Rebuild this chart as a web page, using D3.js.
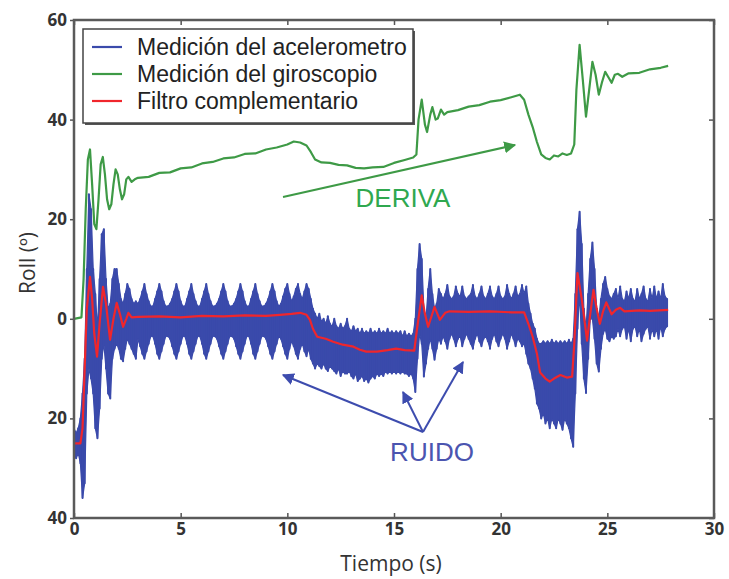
<!DOCTYPE html>
<html>
<head>
<meta charset="utf-8">
<script src="https://cdn.jsdelivr.net/npm/d3@7"></script>
<style>
  body { margin: 0; background: #fff; }
  svg { display: block; }
  .tick text { font-family: "Open Sans", sans-serif; font-weight: 700; font-size: 17px; fill: #333; }
</style>
</head>
<body>
<svg id="chart" width="729" height="579"></svg>
<script>
// accelerometer: min / max of the noisy signal every 0.1 s, starting at t = 0
const accStep = 0.1;
const accHi = [
  -22, -23, -22, -20, -15, -8, 10, 25, 22, 10,
  5, -2, 8, 17, 18, 8, 2, 3, 8, 10,
  10, 7, 4, 3, 5, 7, 6, 4, 3, 3.5,
  3, 4, 5.5, 7, 5, 3.5, 2.5, 2.5, 4, 5.5,
  7, 5.5, 3.5, 2.5, 2.5, 3, 4, 5.5, 7, 5.5,
  3.5, 2.5, 2.5, 4, 5.5, 7, 5, 3.5, 2.5, 2.5,
  4, 5.5, 7, 5, 3.5, 2.5, 2.5, 3, 4, 5.5,
  7, 5.5, 3.5, 2.5, 2.5, 3, 4, 5.5, 7, 5.5,
  3.5, 2.5, 2.5, 4, 5.5, 7, 5, 3.5, 2.5, 2.5,
  3, 4, 5.5, 7, 5.5, 3.5, 2.5, 3, 4.5, 6,
  7, 5, 3.5, 4.5, 6, 7, 5, 4, 5.5, 7,
  6, 4, 2, 1, 0, 1, -0.5, 0, -1, 0.5,
  -1, -1.5, 0, -1.5, -2, -1, -2, -1.5, 0, -2,
  -2.5, -1.5, -2.5, -2, -3, -2, -3, -2.5, -3, -2,
  -3, -2.5, -3, -2, -3, -2.5, -3, -2, -3, -2.5,
  -3, -2.5, -3, -2.5, -3.5, -2.5, -3.5, -3, -3.5, -3,
  0, 10, 15, 12, 2, 0, 6, 10, 5, 2,
  3, 6, 5, 4, 5, 6.8, 4.5, 4, 4.5, 6.5,
  5, 4.5, 6.5, 4.5, 4, 4.5, 5, 6.8, 4.5, 4,
  5, 6.5, 4.5, 4, 5, 6.5, 4.5, 4, 5, 6.5,
  4.5, 4, 4.5, 6.8, 5, 4, 5, 6.5, 4.5, 5,
  6.8, 5, 6.5, 3, 1, -1, -2, -4, -5, -5,
  -4.5, -5, -4.5, -5, -4.2, -5, -4.5, -5, -4.5, -5,
  -4.5, -5, -4.2, -5, -4, 5, 18, 21.5, 15, 2,
  -2, 5, 12, 15.3, 10, 2, 0, 4, 7, 8.4,
  6, 4.5, 4, 5, 6, 4, 6.5, 4, 3.5, 5.5,
  4, 6, 4, 3.5, 6, 4, 5, 6.5, 4, 3.5,
  6, 4, 6.5, 4, 5.5, 4, 7, 4.5, 4
];
const accLo = [
  -27, -28, -27, -29, -36, -33, -15, -10, -12, -15,
  -22, -24, -18, -8, -5, -10, -15, -16, -8, -6,
  -5, -6, -8, -8.5, -6, -4, -5, -6, -7, -8,
  -4, -5.5, -7, -8, -6.5, -5, -3.5, -3.5, -5, -7,
  -8, -6.5, -5, -3.5, -3.5, -4, -5.5, -7, -8, -6.5,
  -5, -3.5, -3.5, -5, -7, -8, -6.5, -5, -3.5, -3.5,
  -5, -7, -8, -6.5, -5, -3.5, -3.5, -4, -5.5, -7,
  -8, -6.5, -5, -3.5, -3.5, -4, -5.5, -7, -8, -6.5,
  -5, -3.5, -3.5, -5, -7, -8, -6.5, -5, -3.5, -3.5,
  -4, -5.5, -7, -8, -6.5, -5, -3.5, -4, -5.5, -7,
  -8, -6, -4.5, -5.5, -7, -8, -6, -5, -6.5, -7.5,
  -6, -8, -9, -10, -9, -9.5, -10, -9, -10, -10.5,
  -9.5, -10, -10.5, -11, -10, -11.5, -10.5, -11, -11, -10.5,
  -11.5, -12, -11, -12.5, -12, -11.5, -12.5, -12, -12.8, -12,
  -11.5, -12, -11, -11.5, -11, -11.5, -10.5, -11, -10.5, -11,
  -10.5, -11, -10.5, -11, -10.5, -11, -11, -11.5, -11, -12,
  -14.7, -8, -3, -5, -11.6, -9, -6, -4, -6, -8.2,
  -6, -4, -5, -3.5, -4.5, -6, -4, -3, -4, -5.5,
  -4, -3.5, -5.5, -4, -3, -4, -5, -6, -4, -3,
  -4.5, -5.5, -4, -3.5, -4.5, -6, -4, -3, -4.5, -5.5,
  -4, -3, -4, -6, -4.5, -3, -4, -5.5, -4, -4.5,
  -5.5, -5, -7, -9, -10, -12, -14, -17, -18, -20,
  -19, -21, -20, -22, -20, -21, -22, -20, -21, -22.3,
  -20, -21, -22, -24, -25.7, -15, -2, 5, -5, -12,
  -14.9, -8, 0, 0, -4, -9, -10.6, -6, -3, -2,
  -4, -4.5, -3.5, -4, -3.5, -2, -3.5, -2, -1.5, -4,
  -2, -4.5, -2, -1.5, -3.5, -2, -4.5, -3, -2, -1.5,
  -4, -2, -3.5, -2, -4, -1.5, -3.5, -2, -1.5
];

// gyroscope (time s, roll deg)
const gyroT = [0, 0.35, 0.45, 0.55, 0.65, 0.75, 0.85, 0.95, 1.05, 1.15, 1.25, 1.35, 1.45, 1.55, 1.65, 1.75, 1.85, 1.95, 2.05, 2.15, 2.25, 2.35, 2.45, 2.55, 2.7, 2.85,
  3.0, 3.5, 4.0, 4.5, 5.0, 5.5, 6.0, 6.5, 7.0, 7.5, 8.0, 8.5, 9.0, 9.5, 10.0, 10.3, 10.6, 10.9, 11.1, 11.3, 11.6, 12.0, 12.4, 12.8, 13.2, 13.6, 14.0, 14.5, 15.0, 15.5, 15.9,
  16.05, 16.15, 16.3, 16.45, 16.55, 16.7, 16.8, 16.95, 17.05, 17.2, 17.35, 17.5, 18.0, 18.5, 19.0, 19.5, 20.0, 20.5, 20.9,
  21.1, 21.3, 21.5, 21.7, 21.9, 22.1, 22.3, 22.5, 22.7, 22.9, 23.1, 23.3, 23.45, 23.55, 23.7, 23.85, 24.0, 24.15, 24.3, 24.45, 24.6, 24.75, 24.9, 25.05, 25.2, 25.35, 25.5, 25.7, 26.0, 26.5, 27.0, 27.5, 27.85];
const gyroV = [0, 0.3, 8, 22, 32, 34, 27, 19, 18, 24, 31, 32.5, 29, 24, 22, 23, 27, 30, 29, 26, 24, 25, 28, 28.5, 27.5, 28,
  28.3, 28.5, 29.3, 29.4, 30.2, 30.4, 31.2, 31.5, 32.2, 32.4, 33.1, 33.2, 34.0, 34.4, 35.0, 35.6, 35.4, 34.8, 33.5, 32, 31.4, 31.3, 30.9, 30.8, 30.3, 30.2, 30.4, 30.5, 31.3, 31.9, 32.4,
  33, 40, 44, 39, 37.5, 41, 42.5, 40, 40.2, 42, 41, 41.5, 41.9, 42.6, 42.9, 43.6, 43.9, 44.5, 45,
  44, 41, 38.5, 35.5, 33, 32.3, 32, 32.8, 32.6, 33.2, 32.9, 33.2, 35, 46, 55, 48, 40.6, 46, 51.6, 49, 45, 47.5, 49.6, 48.5, 47.4, 49, 49.2, 48.6, 49.3, 49.4, 50.1, 50.4, 50.8];

// complementary filter (time s, roll deg)
const filtT = [0, 0.3, 0.4, 0.5, 0.6, 0.75, 0.85, 0.95, 1.08, 1.2, 1.36, 1.5, 1.69, 1.85, 2.0, 2.15, 2.3, 2.45, 2.55, 2.7,
  3.0, 4.0, 5.0, 6.0, 7.0, 8.0, 9.0, 9.65, 10.2, 10.6, 10.9, 11.06, 11.2, 11.4, 11.8, 12.15, 12.6, 13.1, 13.4, 13.7, 14.2, 14.7, 15.1, 15.5, 15.95,
  16.08, 16.3, 16.45, 16.6, 16.9, 17.15, 17.4, 17.6, 18.5, 19.5, 20.5, 21.1, 21.3, 21.5, 21.7, 21.85, 22.1, 22.3, 22.5, 22.8, 23.1, 23.35,
  23.45, 23.6, 23.8, 24.05, 24.2, 24.35, 24.5, 24.65, 24.8, 24.95, 25.2, 25.4, 25.6, 25.8, 26.5, 27.0, 27.85];
const filtV = [-25, -25, -22, -10, 2, 8.4, 4, -3, -7.6, -1, 6.4, 3, -4.2, 0, 3.2, 1, -1.6, 0, 1.2, 0.3,
  0.4, 0.5, 0.3, 0.6, 0.5, 0.7, 0.6, 0.8, 1.0, 1.2, 0.8, -0.2, -2, -3.6, -4, -4.6, -5.2, -5.6, -6.2, -6.6, -6.6, -6.3, -6, -6.3, -6.4,
  -2, 4.7, 1, -1.6, 2.4, -0.2, 1.2, 1.5, 1.4, 1.5, 1.3, 1.3, -1, -3.6, -7, -10.8, -12, -12.6, -12, -11.3, -11.8, -11.6,
  -5, 9.2, 4, -4.4, 1, 5.8, 2, -1, 1.5, 3.3, 0.9, 1.8, 2.2, 1.5, 1.7, 1.6, 1.8];

const seriesNames = ["Medición del acelerometro", "Medición del giroscopio", "Filtro complementario"];
const xTicks = [0, 5, 10, 15, 20, 25, 30];
const yTicks = [-40, -20, 0, 20, 40, 60];

const colors = { acc: "#3a4aab", gyro: "#3e9a46", filt: "#f0262c" };

const svg = d3.select("#chart");
const margin = { left: 74, right: 15, top: 20, bottom: 61 };
const W = 729, H = 579;

const x = d3.scaleLinear().domain([0, 30]).range([margin.left, W - margin.right]);
const y = d3.scaleLinear().domain([-40, 60]).range([H - margin.bottom, margin.top]);

const plot = svg.append("g");

// accelerometer: filled min/max band plus vertical strokes for the spikes
const accData = accHi.map((hi, i) => ({ t: i * accStep, hi, lo: accLo[i] }));
plot.append("path")
  .datum(accData)
  .attr("d", d3.area().x((d) => x(d.t)).y0((d) => y(d.lo)).y1((d) => y(d.hi)))
  .attr("fill", colors.acc)
  .attr("stroke", colors.acc)
  .attr("stroke-width", 1.2)
  .attr("stroke-linejoin", "round");
plot.append("g")
  .selectAll("line")
  .data(accData)
  .enter()
  .append("line")
  .attr("x1", (d) => x(d.t)).attr("x2", (d) => x(d.t))
  .attr("y1", (d) => y(d.hi)).attr("y2", (d) => y(d.lo))
  .attr("stroke", colors.acc)
  .attr("stroke-width", 2)
  .attr("stroke-linecap", "round");

const line = d3.line().x((d) => x(d[0])).y((d) => y(d[1]));

plot.append("path")
  .datum(gyroT.map((t, i) => [t, gyroV[i]]))
  .attr("d", line)
  .attr("fill", "none")
  .attr("stroke", colors.gyro)
  .attr("stroke-width", 2.2)
  .attr("stroke-linejoin", "round");

plot.append("path")
  .datum(filtT.map((t, i) => [t, filtV[i]]))
  .attr("d", line)
  .attr("fill", "none")
  .attr("stroke", colors.filt)
  .attr("stroke-width", 2.2)
  .attr("stroke-linejoin", "round");

// axes, ticks pointing inwards
const fmt = (d) => Math.abs(d);
svg.append("g")
  .attr("transform", `translate(0,${y(-40)})`)
  .call(d3.axisBottom(x).tickValues(xTicks).tickFormat(fmt).tickSizeInner(-5).tickSizeOuter(0).tickPadding(5))
  .call((g) => g.select(".domain").remove());
svg.append("g")
  .attr("transform", `translate(0,${y(60)})`)
  .call(d3.axisTop(x).tickValues(xTicks).tickFormat("").tickSizeInner(-5).tickSizeOuter(0))
  .call((g) => g.select(".domain").remove());
svg.append("g")
  .attr("transform", `translate(${x(0)},0)`)
  .call(d3.axisLeft(y).tickValues(yTicks).tickFormat(fmt).tickSizeInner(4).tickSizeOuter(0).tickPadding(3))
  .call((g) => g.select(".domain").remove());
svg.append("g")
  .attr("transform", `translate(${x(30)},0)`)
  .call(d3.axisRight(y).tickValues(yTicks).tickFormat("").tickSizeInner(-5).tickSizeOuter(0))
  .call((g) => g.select(".domain").remove());
svg.selectAll(".tick line").attr("stroke", "#555").attr("stroke-width", 1.5);

svg.append("rect")
  .attr("x", x(0)).attr("y", y(60))
  .attr("width", x(30) - x(0)).attr("height", y(-40) - y(60))
  .attr("fill", "none").attr("stroke", "#5a5a5a").attr("stroke-width", 2.5);

// axis titles
svg.append("text")
  .attr("x", 391).attr("y", 563)
  .attr("text-anchor", "middle").attr("dominant-baseline", "central")
  .attr("font-family", "Open Sans, sans-serif").attr("font-size", 21).attr("fill", "#333")
  .text("Tiempo (s)");
svg.append("text")
  .attr("transform", "translate(27,263) rotate(-90)")
  .attr("text-anchor", "middle").attr("dominant-baseline", "central")
  .attr("font-family", "Open Sans, sans-serif").attr("font-size", 21).attr("fill", "#333")
  .text("Roll (º)");

// legend
const legend = svg.append("g");
legend.append("rect").attr("x", 85).attr("y", 31).attr("width", 330).attr("height", 94).attr("fill", "#555");
legend.append("rect").attr("x", 83).attr("y", 29).attr("width", 330).attr("height", 94)
  .attr("fill", "#fff").attr("stroke", "#444").attr("stroke-width", 1.5);
const legendColors = [colors.acc, colors.gyro, colors.filt];
seriesNames.forEach((name, i) => {
  const ly = 47 + i * 27;
  legend.append("line").attr("x1", 92).attr("x2", 122).attr("y1", ly).attr("y2", ly)
    .attr("stroke", legendColors[i]).attr("stroke-width", 2.2);
  legend.append("text").attr("x", 137).attr("y", ly)
    .attr("dominant-baseline", "central")
    .attr("font-family", "Liberation Sans, Arial, sans-serif").attr("font-size", 23).attr("fill", "#222")
    .text(name);
});

// annotations
const defs = svg.append("defs");
[["arrowG", colors.gyro], ["arrowB", "#3d4cae"]].forEach(([id, c]) => {
  defs.append("marker").attr("id", id)
    .attr("viewBox", "0 0 10 10").attr("refX", 9).attr("refY", 5)
    .attr("markerWidth", 6).attr("markerHeight", 6).attr("orient", "auto")
    .append("path").attr("d", "M0,0 L10,5 L0,10 z").attr("fill", c);
});

svg.append("line")
  .attr("x1", 283).attr("y1", 197).attr("x2", 515).attr("y2", 145)
  .attr("stroke", colors.gyro).attr("stroke-width", 2).attr("marker-end", "url(#arrowG)");
svg.append("text")
  .attr("x", 403).attr("y", 198)
  .attr("text-anchor", "middle").attr("dominant-baseline", "central")
  .attr("font-family", "Liberation Sans, Arial, sans-serif").attr("font-size", 26).attr("fill", "#2fa84f")
  .text("DERIVA");

const ruidoFrom = [423, 432];
[[283, 375], [403, 392], [463, 362]].forEach(([tx, ty]) => {
  svg.append("line")
    .attr("x1", ruidoFrom[0]).attr("y1", ruidoFrom[1]).attr("x2", tx).attr("y2", ty)
    .attr("stroke", "#3d4cae").attr("stroke-width", 2).attr("marker-end", "url(#arrowB)");
});
svg.append("text")
  .attr("x", 432).attr("y", 452)
  .attr("text-anchor", "middle").attr("dominant-baseline", "central")
  .attr("font-family", "Liberation Sans, Arial, sans-serif").attr("font-size", 26).attr("fill", "#4b55b0")
  .text("RUIDO");
</script>
</body>
</html>
